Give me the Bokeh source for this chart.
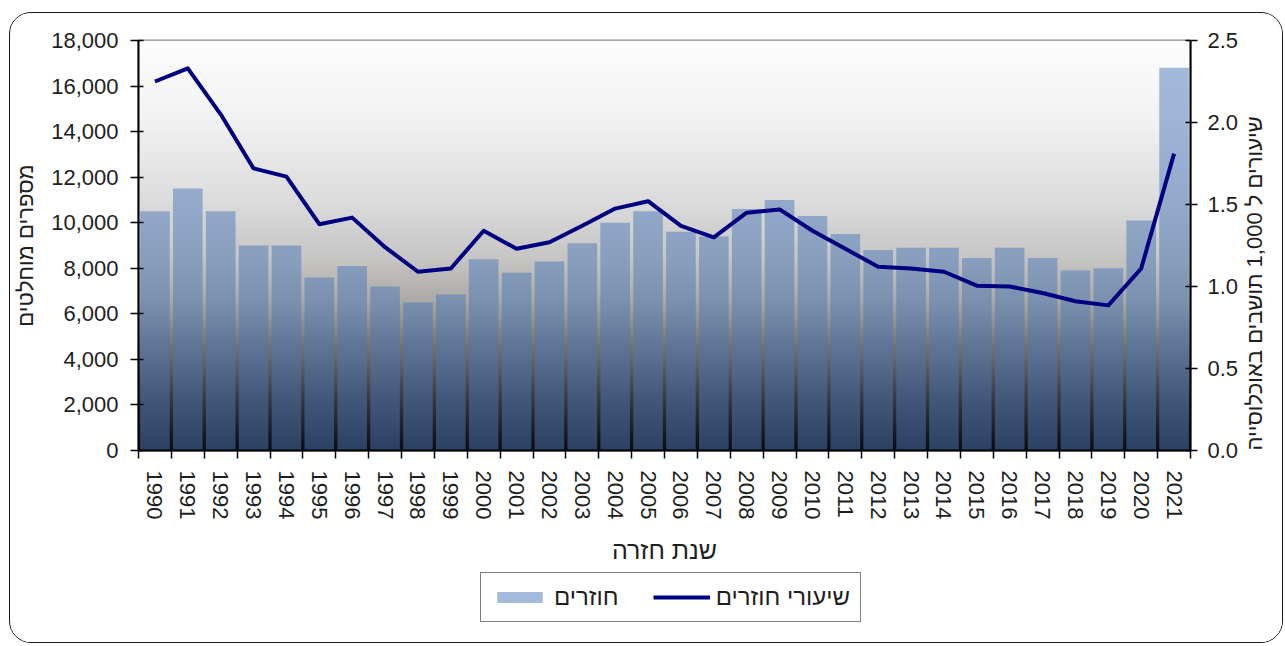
import math
import numpy as np
from bokeh.plotting import figure
from bokeh.layouts import column
from bokeh.models import (Range1d, LinearAxis, FixedTicker, NumeralTickFormatter,
                          Legend, LegendItem, ColumnDataSource)
from bokeh.embed import file_html
from bokeh.resources import INLINE

# ---------------- data ----------------
years = list(range(1990, 2022))
returnees = [10500, 11500, 10500, 9000, 9000, 7600, 8100, 7200, 6500, 6850,
             8400, 7800, 8300, 9100, 10000, 10500, 9600, 9400, 10600, 11000,
             10300, 9500, 8800, 8900, 8900, 8450, 8900, 8450, 7900, 8000,
             10100, 16800]
rates = [2.25, 2.33, 2.05, 1.72, 1.67, 1.38, 1.42, 1.24, 1.09, 1.11,
         1.34, 1.23, 1.27, 1.37, 1.475, 1.52, 1.37, 1.30, 1.45, 1.47,
         1.34, 1.23, 1.12, 1.11, 1.09, 1.005, 1.0, 0.96, 0.91, 0.885,
         1.11, 1.81]
left_ticks = [0, 2000, 4000, 6000, 8000, 10000, 12000, 14000, 16000, 18000]
right_ticks = [0.0, 0.5, 1.0, 1.5, 2.0, 2.5]
year_labels = [str(y) for y in years]

series_bar_label = "חוזרים"
series_line_label = "שיעורי חוזרים"
x_title = "שנת חזרה"
y_left_title = "מספרים מוחלטים"
y_right_title = "שיעורים ל 1,000 תושבים באוכלוסייה"

FONT = "Liberation Sans"
BAR_COLOR, BAR_ALPHA = "#4a78b8", 0.5
LINE_COLOR = "#000080"

x0, x1 = years[0] - 0.5, years[-1] + 0.5
yl0, yl1 = left_ticks[0], left_ticks[-1]
yr0, yr1 = right_ticks[0], right_ticks[-1]

W = 1272
p = figure(width=W, height=557, output_backend="svg", toolbar_location=None,
           x_range=Range1d(x0, x1), y_range=Range1d(yl0, yl1),
           min_border_left=127, min_border_right=88, min_border_top=27,
           min_border_bottom=120, tools="")
p.extra_y_ranges = {"rate": Range1d(yr0, yr1)}
p.border_fill_color = "white"
p.background_fill_color = "white"
p.outline_line_color = "#8a8a8a"
p.outline_line_width = 2
p.xgrid.visible = False
p.ygrid.visible = False

# plot-area gradient (styling only)
stops_f = [0.0, 0.195, 0.39, 0.537, 0.634, 0.756, 0.878, 1.0]
stops_c = [(253, 253, 253), (242, 242, 242), (220, 220, 220), (198, 197, 196),
           (172, 170, 168), (112, 111, 112), (56, 56, 60), (12, 12, 16)]
N = 410
frac_top = 1 - (np.arange(N) + 0.5) / N
rgba = np.zeros((N, 2, 4), dtype=np.uint8)
for k in range(3):
    ch = np.interp(frac_top, stops_f, [c[k] for c in stops_c])
    rgba[:, :, k] = ch[:, None].astype(np.uint8)
rgba[:, :, 3] = 255
img = rgba.view(dtype=np.uint32).reshape((N, 2))
p.image_rgba(image=[img], x=x0, y=yl0, dw=x1 - x0, dh=yl1 - yl0)

src = ColumnDataSource(dict(year=years, n=returnees, r=rates))
bars = p.vbar(x="year", top="n", width=0.9, bottom=0, source=src,
              fill_color=BAR_COLOR, fill_alpha=BAR_ALPHA, line_color=None)
line = p.line(x="year", y="r", source=src, y_range_name="rate",
              line_color=LINE_COLOR, line_width=4, line_join="round")

# x axis
xa = p.xaxis[0]
xa.ticker = FixedTicker(ticks=years, minor_ticks=[y - 0.5 for y in years] + [years[-1] + 0.5])
xa.major_label_overrides = {y: s for y, s in zip(years, year_labels)}
xa.major_label_orientation = "vertical"
xa.major_tick_in = 0
xa.major_tick_out = 0
xa.minor_tick_in = 0
xa.minor_tick_out = 8
xa.minor_tick_line_color = "black"
xa.minor_tick_line_width = 1.5
xa.major_label_standoff = 12
xa.axis_line_color = "black"
xa.axis_line_width = 2
xa.axis_label = x_title
xa.axis_label_standoff = 14

# left axis
ya = p.yaxis[0]
ya.ticker = FixedTicker(ticks=left_ticks)
ya.formatter = NumeralTickFormatter(format="0,0")
ya.major_tick_in = 5
ya.major_tick_out = 8
ya.minor_tick_line_color = None
ya.major_label_standoff = 12
ya.axis_line_color = "black"
ya.axis_line_width = 2
ya.axis_label = y_left_title
ya.axis_label_standoff = 10

# right axis
ra = LinearAxis(y_range_name="rate", ticker=FixedTicker(ticks=right_ticks),
                formatter=NumeralTickFormatter(format="0.0"))
ra.major_tick_in = 5
ra.major_tick_out = 7
ra.minor_tick_line_color = None
ra.major_label_standoff = 10
ra.axis_line_color = "black"
ra.axis_line_width = 2
ra.axis_label = y_right_title
ra.axis_label_standoff = 13
ra.axis_label_orientation = math.pi / 2
ra.axis_label_align = "start"
p.add_layout(ra, "right")

for ax in (xa, ya, ra):
    ax.major_label_text_font = FONT
    ax.major_label_text_font_size = "22px"
    ax.major_label_text_color = "#1e1e1e"
    ax.axis_label_text_font = FONT
    ax.axis_label_text_font_size = "22px"
    ax.axis_label_text_font_style = "normal"
    ax.axis_label_text_color = "#1e1e1e"
    ax.major_tick_line_color = "black"
    ax.major_tick_line_width = 1.5
xa.axis_label_text_font_size = "25px"

# legend strip below the chart (hidden renderers on the same data source)
lf = figure(width=W, height=72, output_backend="svg", toolbar_location=None, tools="",
            x_axis_location=None, y_axis_location=None, min_border=0,
            x_range=Range1d(x0, x1), y_range=Range1d(yl0, yl1))
lf.outline_line_color = None
lf.border_fill_color = "white"
lf.background_fill_color = "white"
lf.xgrid.visible = False
lf.ygrid.visible = False
lbars = lf.vbar(x="year", top="n", width=0.9, bottom=0, source=src,
                fill_color=BAR_COLOR, fill_alpha=BAR_ALPHA, line_color=None, visible=False)
lline = lf.line(x="year", y="r", source=src,
                line_color=LINE_COLOR, line_width=4, visible=False)

legend = Legend(items=[LegendItem(label=series_bar_label, renderers=[lbars]),
                       LegendItem(label=series_line_label, renderers=[lline])],
                orientation="horizontal", location=(342, 20), margin=0,
                label_text_font=FONT, label_text_font_size="24px",
                label_text_color="#1e1e1e",
                glyph_width=57, glyph_height=14, label_standoff=6, spacing=34,
                padding=10, border_line_color="black", border_line_width=1.5,
                background_fill_color="white", background_fill_alpha=1.0)
lf.add_layout(legend)

layout = column(p, lf, spacing=0)
layout.styles = {"border": "1.5px solid #1a1a1a", "border-radius": "22px",
                 "overflow": "hidden", "margin-left": "9px", "margin-top": "12px"}

open("out.html", "w").write(file_html(layout, INLINE))
